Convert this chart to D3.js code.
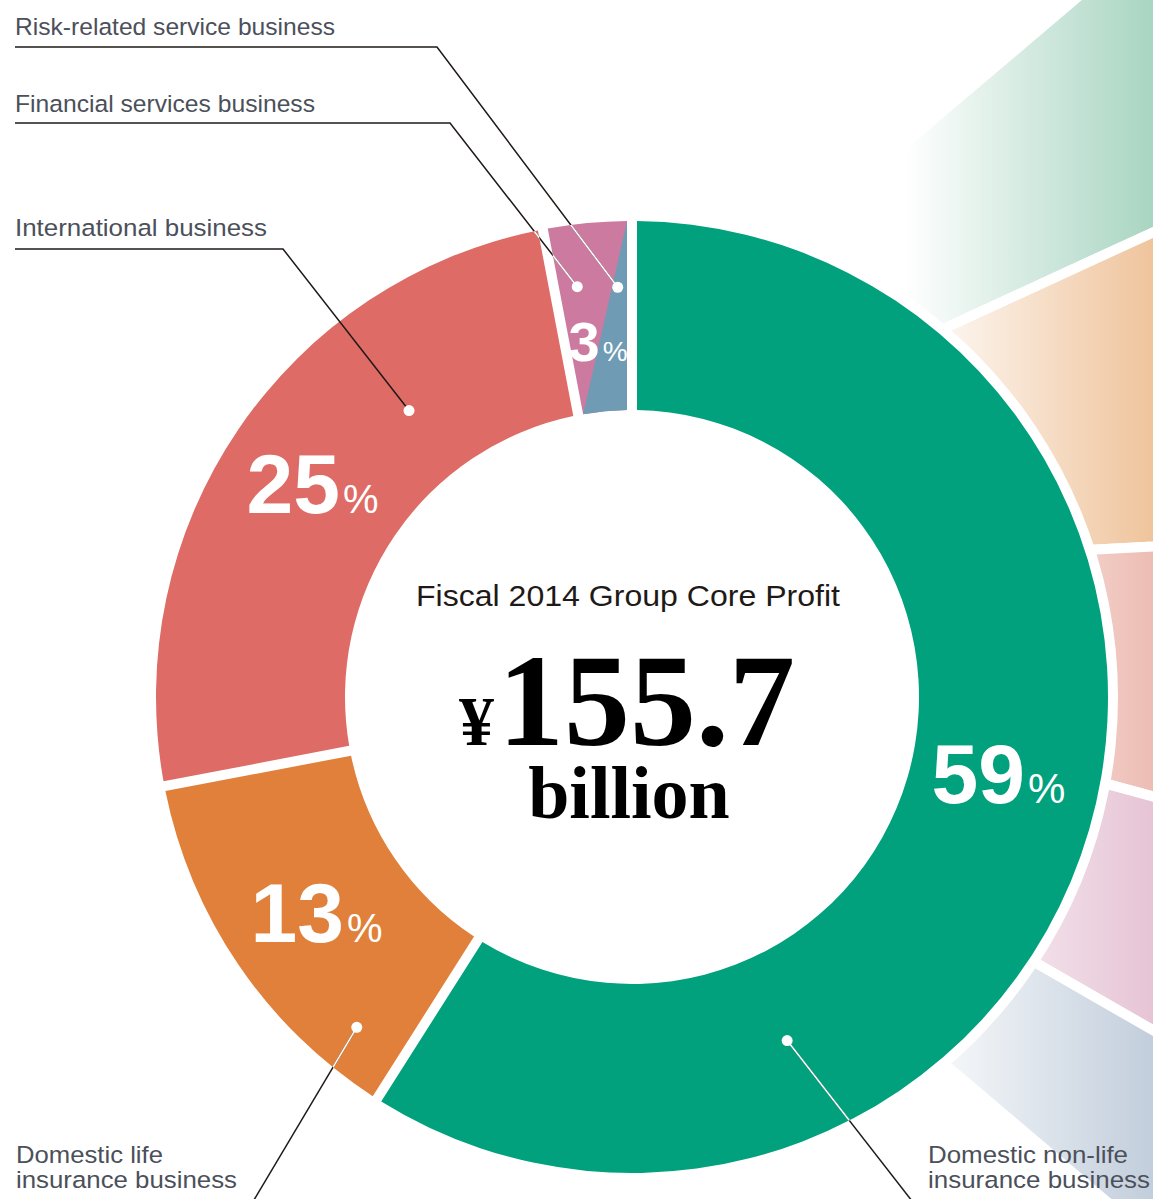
<!DOCTYPE html>
<html><head><meta charset="utf-8">
<script src="https://cdn.jsdelivr.net/npm/d3@7"></script>
<style>html,body{margin:0;padding:0;background:#fff;}svg{display:block}</style>
</head><body>
<svg id="chart" width="1153" height="1199"></svg>
<script>
// ---- data ----
const sliceNames = ["Domestic non-life insurance business", "Domestic life insurance business", "International business", "Financial services + Risk-related service business"];
const sliceShares = [59, 13, 25, 3];
const sliceLabels = ["59", "13", "25", "3"];
const sliceColors = ["#00a17c", "#e0803a", "#de6b65", "#cc7aa0"];
const splitColor = "#6f9bb5";           // risk-related part of the 3% slice
const annoNames = [["Risk-related service business"], ["Financial services business"], ["International business"], ["Domestic life", "insurance business"], ["Domestic non-life", "insurance business"]];
const centerTitle = "Fiscal 2014 Group Core Profit";
const centerCurrency = "¥";
const centerValue = "155.7";
const centerUnit = "billion";
const fanColors = ["#a9d5c2", "#efc49c", "#edbdb4", "#e6c4d5", "#c2cedc"];

// ---- layout ----
const W = 1153, H = 1199;
const cx = 632, cy = 697, rOuter = 476, rInner = 287;
const fanCenter = [382, 587];
const fanEdges = [-40.3, -24.7, -3.0, 15.2, 29.9, 40.3];
const labelFont = [84, 84, 84, 56];
const pctFont = [42, 40, 40, 28];
const labelOffset = [[0, -31], [0, 0], [-4, 0], [2, 24]];
// annotation layout: text pos, text widths, underline, dot polar (deg, r), end of leader
const annoLayout = [
  {tx: 15, ty: 35, w: [320], ly: 47, lx2: 437, a: 358.0, r: 410, white: true},
  {tx: 15, ty: 112, w: [300], ly: 123, lx2: 450, a: 352.4, r: 414, white: true},
  {tx: 15, ty: 236, w: [252], ly: 249, lx2: 283, a: 322.1, r: 363, white: false},
  {tx: 16, ty: 1163, w: [147, 221], end: [248, 1210], a: 219.8, r: 430, white: true},
  {tx: 928, ty: 1163, w: [200, 222], end: [919, 1210], a: 155.7, r: 377, white: true}
];

const svg = d3.select("#chart");
const defs = svg.append("defs");
const rad = d => d * Math.PI / 180;

// ---- decorative fan ----
fanColors.forEach((c, i) => {
  const g = defs.append("linearGradient").attr("id", "fan" + i)
    .attr("gradientUnits", "userSpaceOnUse")
    .attr("x1", 905 - fanCenter[0]).attr("x2", W - fanCenter[0]).attr("y1", 0).attr("y2", 0);
  g.append("stop").attr("offset", 0).attr("stop-color", "#fff");
  g.append("stop").attr("offset", 1).attr("stop-color", c);
});
defs.append("clipPath").attr("id", "fanClip").append("rect")
  .attr("x", 905).attr("y", 0).attr("width", W).attr("height", H);
const fanArc = d3.arc().innerRadius(0).outerRadius(1600);
const fanG = svg.append("g").attr("clip-path", "url(#fanClip)")
  .append("g").attr("transform", `translate(${fanCenter})`);
fanColors.forEach((c, i) => {
  fanG.append("path")
    .attr("d", fanArc({startAngle: rad(fanEdges[i] + 90), endAngle: rad(fanEdges[i + 1] + 90)}))
    .attr("fill", `url(#fan${i})`).attr("stroke", "#fff").attr("stroke-width", 10)
    .attr("stroke-linejoin", "miter");
});

// white ring separating donut from fan
svg.append("circle").attr("cx", cx).attr("cy", cy).attr("r", rOuter + 10).attr("fill", "#fff");

// ---- donut ----
const pie = d3.pie().sort(null).startAngle(0).endAngle(2 * Math.PI);
const arcs = pie(sliceShares);
const arc = d3.arc().innerRadius(rInner).outerRadius(rOuter).padAngle(0.02).padRadius(500);
const donut = svg.append("g").attr("transform", `translate(${cx},${cy})`);
donut.selectAll("path.slice").data(arcs).join("path").attr("class", "slice")
  .attr("d", arc).attr("fill", (d, i) => sliceColors[i]);

// split of the 3% slice (diagonal)
const last = arcs[3];
const half = 5;
const pol = (a, r) => [r * Math.sin(a), -r * Math.cos(a)];
const A = pol(last.endAngle - Math.asin(half / rOuter), rOuter);
const B = pol(last.startAngle + Math.asin(half / rInner), rInner);
const C = pol(last.endAngle - Math.asin(half / rInner), rInner);
let dx = A[0] - B[0], dy = A[1] - B[1];
let n = [-dy, dx]; const nl = Math.hypot(n[0], n[1]); n = [n[0] / nl, n[1] / nl];
if ((C[0] - B[0]) * n[0] + (C[1] - B[1]) * n[1] < 0) n = [-n[0], -n[1]];
const A2 = [A[0] + dx, A[1] + dy], B2 = [B[0] - dx, B[1] - dy];
defs.append("clipPath").attr("id", "comboClip").append("path").attr("d", arc(last));
donut.append("path").attr("clip-path", "url(#comboClip)")
  .attr("d", d3.line()([A2, B2, [B2[0] + n[0] * 300, B2[1] + n[1] * 300], [A2[0] + n[0] * 300, A2[1] + n[1] * 300]]) + "Z")
  .attr("fill", splitColor);

// percent labels
arcs.forEach((d, i) => {
  const c = arc.centroid(d);
  const t = donut.append("text")
    .attr("x", c[0] + labelOffset[i][0])
    .attr("y", c[1] + labelOffset[i][1] + 0.358 * labelFont[i])
    .attr("text-anchor", "middle")
    .attr("font-family", "'Liberation Sans', Arial, Helvetica, sans-serif")
    .attr("fill", "#fff");
  t.append("tspan").attr("font-size", labelFont[i]).attr("font-weight", "bold").text(sliceLabels[i]);
  t.append("tspan").attr("font-size", pctFont[i]).attr("dx", 3).text("%");
});

// ---- annotations ----
const ringClip = defs.append("clipPath").attr("id", "ringClip");
arcs.forEach(d => ringClip.append("path").attr("transform", `translate(${cx},${cy})`).attr("d", arc(d)));

const annoG = svg.append("g");
annoLayout.forEach((L, i) => {
  const dot = [cx + L.r * Math.sin(rad(L.a)), cy - L.r * Math.cos(rad(L.a))];
  const pts = L.ly !== undefined ? [[L.tx, L.ly], [L.lx2, L.ly], dot] : [dot, L.end];
  const ld = d3.line()(pts);
  annoG.append("path").attr("d", ld).attr("fill", "none").attr("stroke", "#1f1a17").attr("stroke-width", 1.5);
  if (L.white) {
    annoG.append("path").attr("d", ld).attr("fill", "none").attr("stroke", "#fff")
      .attr("stroke-width", 1.6).attr("clip-path", "url(#ringClip)");
  }
  annoG.append("circle").attr("cx", dot[0]).attr("cy", dot[1]).attr("r", 5.5).attr("fill", "#fff");
  annoNames[i].forEach((s, j) => annoG.append("text")
    .attr("font-family", "'Liberation Sans', Arial, Helvetica, sans-serif")
    .attr("font-size", 24.5).attr("fill", "#4b505a")
    .attr("x", L.tx).attr("y", L.ty + j * 24.5)
    .attr("textLength", L.w[j]).attr("lengthAdjust", "spacingAndGlyphs").text(s));
});

// ---- center text ----
svg.append("text").attr("x", 628).attr("y", 606).attr("text-anchor", "middle")
  .attr("font-family", "'Liberation Sans', Arial, Helvetica, sans-serif").attr("font-size", 29)
  .attr("textLength", 424).attr("lengthAdjust", "spacingAndGlyphs")
  .attr("fill", "#1f1a17").text(centerTitle);
const vt = svg.append("text").attr("x", 627).attr("y", 745).attr("text-anchor", "middle")
  .attr("font-family", "'Liberation Serif', 'Times New Roman', serif").attr("font-weight", "bold")
  .attr("fill", "#000");
vt.append("tspan").attr("font-size", 70).text(centerCurrency);
vt.append("tspan").attr("font-size", 132).attr("dx", 4).text(centerValue);
vt.append("tspan").attr("x", 629).attr("y", 818).attr("font-size", 74).text(centerUnit);
</script>
</body></html>
